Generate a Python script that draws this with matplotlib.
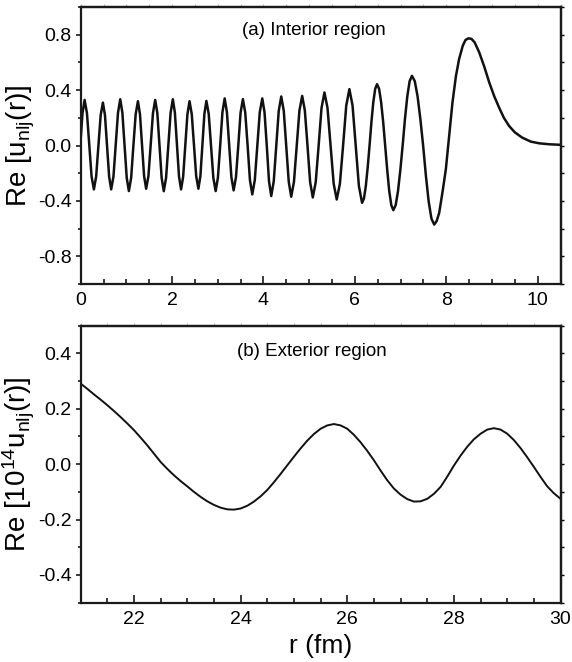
import numpy as np
import matplotlib
matplotlib.use("Agg")
import matplotlib.pyplot as plt
from matplotlib.ticker import MultipleLocator, FormatStrFormatter

plt.rcParams['font.family'] = ['Liberation Sans', 'DejaVu Sans']
plt.rcParams['mathtext.fontset'] = 'custom'
plt.rcParams['mathtext.rm'] = 'Liberation Sans'
plt.rcParams['mathtext.it'] = 'Liberation Sans'
plt.rcParams['axes.unicode_minus'] = False

# (a) interior region: r (fm), Re u(r)
r_in = [0.0, 0.04, 0.087, 0.138, 0.189, 0.239, 0.29, 0.339, 0.389, 0.438,
        0.487, 0.532, 0.578, 0.623, 0.668, 0.718, 0.767, 0.817, 0.866, 0.913,
        0.961, 1.008, 1.055, 1.105, 1.154, 1.204, 1.253, 1.298, 1.343, 1.388,
        1.433, 1.483, 1.532, 1.582, 1.631, 1.678, 1.725, 1.772, 1.819, 1.869,
        1.918, 1.968, 2.017, 2.062, 2.107, 2.152, 2.197, 2.243, 2.290, 2.336,
        2.382, 2.431, 2.479, 2.528, 2.576, 2.620, 2.664, 2.707, 2.751, 2.802,
        2.853, 2.903, 2.954, 3.003, 3.053, 3.102, 3.151, 3.200, 3.249, 3.298,
        3.347, 3.398, 3.449, 3.499, 3.550, 3.601, 3.653, 3.704, 3.755, 3.810,
        3.865, 3.919, 3.974, 4.023, 4.072, 4.121, 4.170, 4.225, 4.280, 4.334,
        4.389, 4.444, 4.498, 4.553, 4.607, 4.667, 4.727, 4.787, 4.847, 4.905,
        4.963, 5.021, 5.079, 5.143, 5.207, 5.270, 5.334, 5.401, 5.469, 5.536,
        5.603, 5.672, 5.742, 5.811, 5.880, 5.949, 6.019, 6.088, 6.157, 6.198,
        6.239, 6.280, 6.321, 6.362, 6.403, 6.444, 6.485, 6.530, 6.574, 6.619,
        6.663, 6.708, 6.752, 6.797, 6.841, 6.892, 6.943, 6.994, 7.045, 7.096,
        7.147, 7.198, 7.249, 7.310, 7.371, 7.432, 7.493, 7.554, 7.614, 7.675,
        7.736, 7.79, 7.845, 7.92, 7.99, 8.06, 8.135, 8.21, 8.28, 8.36,
        8.42, 8.485, 8.55, 8.62, 8.72, 8.83, 8.94, 9.05, 9.155, 9.26,
        9.374, 9.5, 9.66, 9.85, 10.03, 10.25, 10.5]
u_in = [0.04, 0.233, 0.329, 0.233, 0.0, -0.224, -0.317, -0.224, 0.0, 0.219,
        0.31, 0.219, 0.0, -0.224, -0.317, -0.224, 0.0, 0.236, 0.334, 0.236,
        0.0, -0.233, -0.329, -0.233, 0.0, 0.226, 0.32, 0.226, 0.0, -0.221,
        -0.312, -0.221, 0.0, 0.233, 0.329, 0.233, 0.0, -0.233, -0.33, -0.233,
        0.0, 0.236, 0.334, 0.236, 0.0, -0.224, -0.317, -0.224, 0.0, 0.226,
        0.32, 0.226, 0.0, -0.221, -0.312, -0.221, 0.0, 0.228, 0.322, 0.228,
        0.0, -0.233, -0.329, -0.233, 0.0, 0.240, 0.34, 0.240, 0.0, -0.229,
        -0.324, -0.229, 0.0, 0.237, 0.335, 0.237, 0.0, -0.250, -0.353, -0.250,
        0.0, 0.240, 0.34, 0.240, 0.0, -0.258, -0.365, -0.258, 0.0, 0.250,
        0.354, 0.250, 0.0, -0.262, -0.37, -0.262, 0.0, 0.253, 0.358, 0.253,
        0.0, -0.265, -0.375, -0.265, 0.0, 0.271, 0.383, 0.271, 0.0, -0.276,
        -0.39, -0.276, 0.0, 0.288, 0.407, 0.288, 0.0, -0.293, -0.414, -0.383,
        -0.293, -0.159, 0.0, 0.170, 0.313, 0.409, 0.443, 0.409, 0.313, 0.170,
        0.0, -0.179, -0.330, -0.431, -0.467, -0.431, -0.330, -0.179, 0.0, 0.193,
        0.356, 0.465, 0.503, 0.465, 0.356, 0.193, 0.0, -0.219, -0.404, -0.528,
        -0.571, -0.545, -0.486, -0.33, -0.172, 0.06, 0.31, 0.50, 0.624, 0.72,
        0.762, 0.774, 0.77, 0.745, 0.673, 0.57, 0.455, 0.355, 0.274, 0.20,
        0.141, 0.095, 0.057, 0.028, 0.016, 0.009, 0.005]

# (b) exterior region: r (fm), Re 10^14 u(r)
r_out = [21.0, 21.125, 21.25, 21.375, 21.5, 21.625, 21.75, 21.875, 22.0, 22.125,
         22.25, 22.375, 22.5, 22.625, 22.75, 22.875, 23.0, 23.125, 23.25, 23.375,
         23.5, 23.625, 23.75, 23.875, 24.0, 24.125, 24.25, 24.375, 24.5, 24.625,
         24.75, 24.875, 25.0, 25.125, 25.25, 25.375, 25.5, 25.625, 25.75, 25.875,
         26.0, 26.125, 26.25, 26.375, 26.5, 26.625, 26.75, 26.875, 27.0, 27.125,
         27.25, 27.375, 27.5, 27.625, 27.75, 27.875, 28.0, 28.125, 28.25, 28.375,
         28.5, 28.625, 28.75, 28.875, 29.0, 29.125, 29.25, 29.375, 29.5, 29.625,
         29.75, 29.875, 30.0]
u_out = [0.291, 0.272, 0.252, 0.233, 0.213, 0.192, 0.170, 0.147, 0.123, 0.096,
         0.068, 0.038, 0.008, -0.017, -0.040, -0.061, -0.080, -0.100, -0.118, -0.134,
         -0.147, -0.157, -0.163, -0.164, -0.160, -0.150, -0.135, -0.116, -0.093, -0.065,
         -0.035, -0.004, 0.027, 0.057, 0.085, 0.109, 0.128, 0.140, 0.145, 0.140,
         0.128, 0.106, 0.079, 0.048, 0.014, -0.023, -0.058, -0.088, -0.110, -0.126,
         -0.135, -0.134, -0.125, -0.107, -0.082, -0.045, -0.005, 0.031, 0.063, 0.090,
         0.110, 0.125, 0.130, 0.125, 0.110, 0.087, 0.058, 0.025, -0.010, -0.046,
         -0.080, -0.105, -0.125]

fig = plt.figure(figsize=(5.72, 6.62), dpi=100)
ax1 = fig.add_axes([0.141, 0.571, 0.839, 0.4184])
ax2 = fig.add_axes([0.141, 0.0896, 0.839, 0.4184])

ax1.plot(r_in, u_in, color='#111111', lw=1.8, solid_joinstyle='round')
ax2.plot(r_out, u_out, color='#111111', lw=1.4, solid_joinstyle='round')


def style(ax, xlim, ylim, xmaj, xmin, ymaj, ymin):
    ax.set_xlim(*xlim)
    ax.set_ylim(*ylim)
    ax.xaxis.set_major_locator(MultipleLocator(xmaj))
    ax.xaxis.set_minor_locator(MultipleLocator(xmin))
    ax.yaxis.set_major_locator(MultipleLocator(ymaj))
    ax.yaxis.set_minor_locator(MultipleLocator(ymin))
    ax.yaxis.set_major_formatter(FormatStrFormatter('%.1f'))
    ax.xaxis.set_major_formatter(FormatStrFormatter('%d'))
    for s in ax.spines.values():
        s.set_linewidth(1.6)
        s.set_color('#1a1a1a')
    ax.tick_params(axis='x', which='both', direction='in', width=1.2,
                   labelsize=14, pad=6, color='#1a1a1a')
    ax.tick_params(axis='x', which='major', length=6)
    ax.tick_params(axis='x', which='minor', length=3.6)
    ax.tick_params(axis='y', which='both', direction='out', width=1.2,
                   labelsize=14, pad=3, color='#1a1a1a')
    ax.tick_params(axis='y', which='major', length=3.6)
    ax.tick_params(axis='y', which='minor', length=2.2)
    # short outward ticks on the right side, faint ones on top
    sec = ax.secondary_yaxis('right')
    sec.yaxis.set_major_locator(MultipleLocator(ymin))
    sec.tick_params(direction='out', length=2.2, width=1.0, labelright=False)
    sec.spines['right'].set_linewidth(1.6)
    top = ax.secondary_xaxis('top')
    top.xaxis.set_major_locator(MultipleLocator(xmin))
    top.tick_params(direction='out', length=2.0, width=0.8, color='#bbbbbb',
                    labeltop=False)
    top.spines['top'].set_linewidth(1.6)


style(ax1, (0, 10.5), (-1.0, 1.0), 2, 0.5, 0.4, 0.2)
style(ax2, (21, 30), (-0.5, 0.5), 2, 0.5, 0.2, 0.1)

ax1.text(0.485, 0.917, '(a) Interior region', transform=ax1.transAxes,
         ha='center', va='center', fontsize=13.5)
ax2.text(0.482, 0.906, '(b) Exterior region', transform=ax2.transAxes,
         ha='center', va='center', fontsize=13.5)

ax1.set_ylabel(r'Re [u$_{\mathrm{nlj}}$(r)]', fontsize=20)
ax2.set_ylabel(r'Re [10$^{14}$u$_{\mathrm{nlj}}$(r)]', fontsize=20)
ax1.yaxis.set_label_coords(-0.092, 0.5)
ax2.yaxis.set_label_coords(-0.092, 0.5)
ax2.set_xlabel('r (fm)', fontsize=19, labelpad=4)

fig.savefig('out.png', dpi=100)
